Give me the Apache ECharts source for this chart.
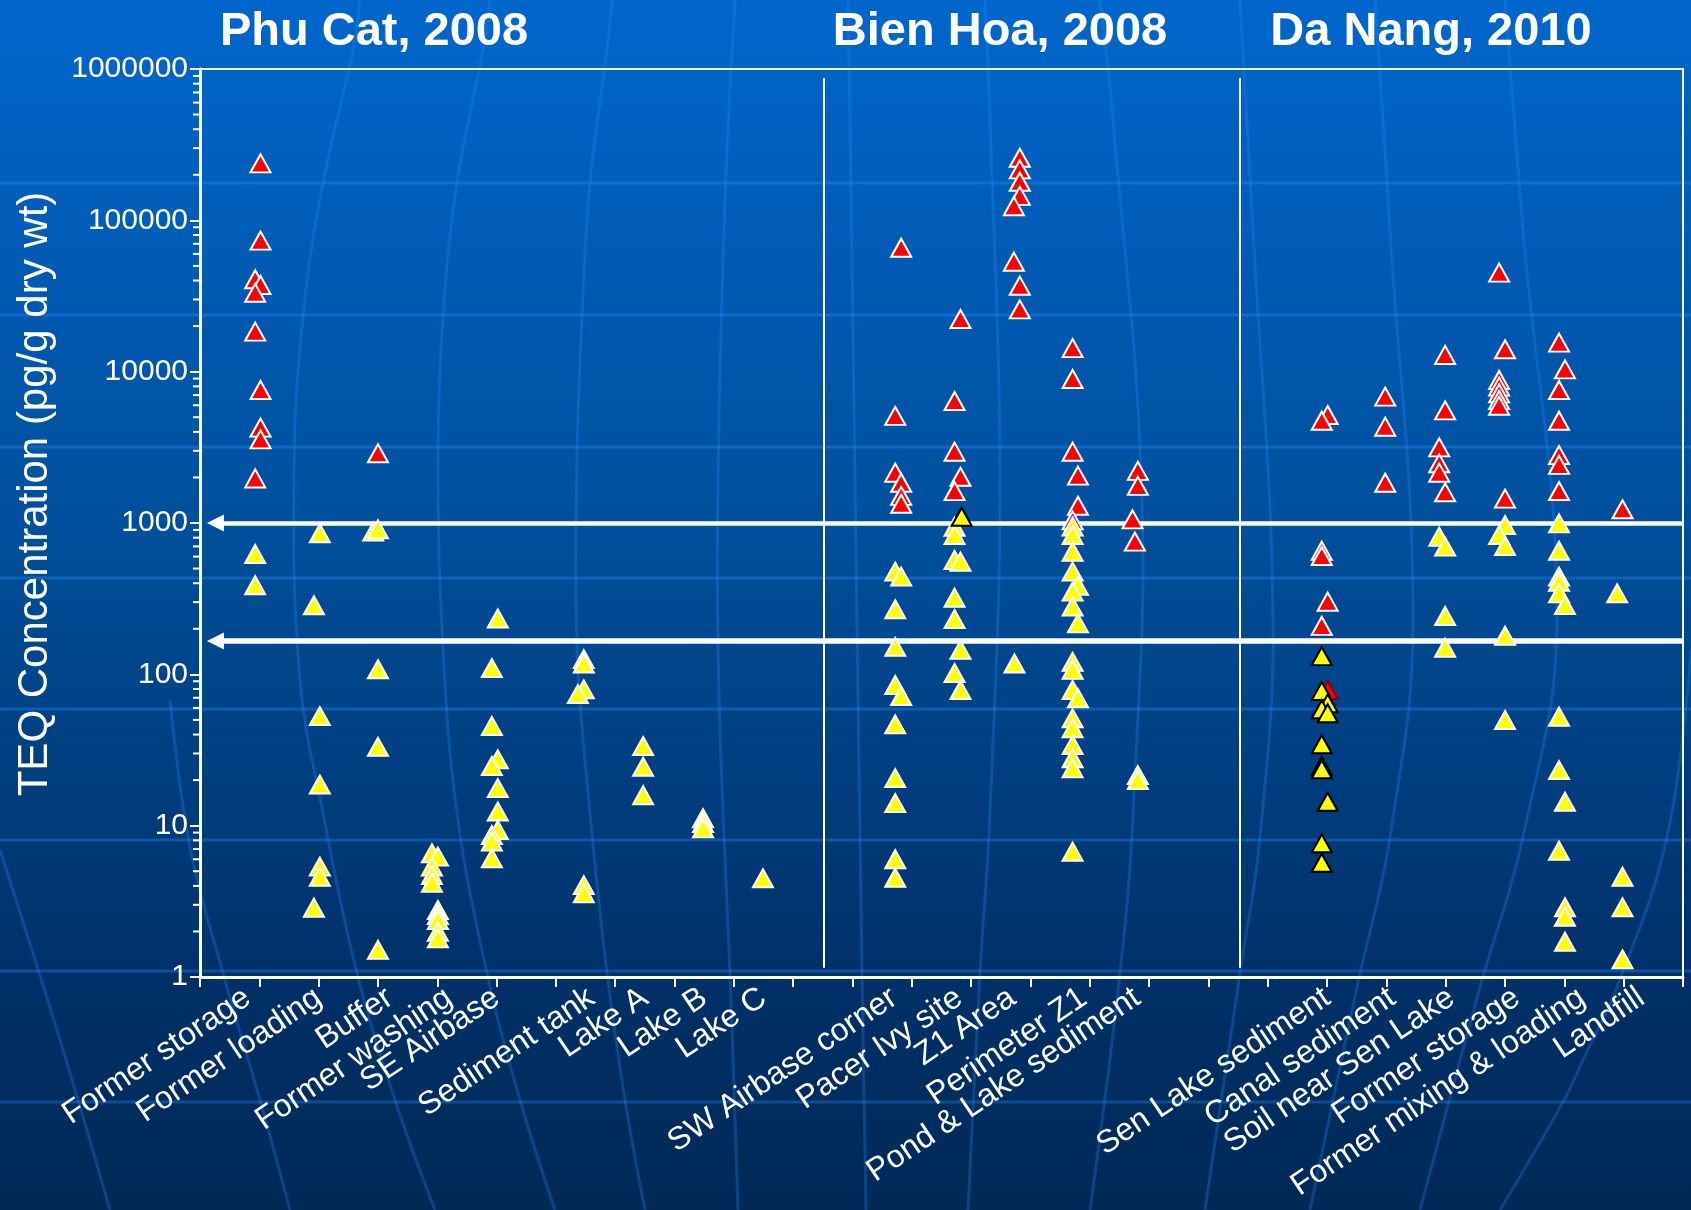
<!DOCTYPE html>
<html>
<head>
<meta charset="utf-8">
<title>TEQ Concentration</title>
<script src="https://cdn.jsdelivr.net/npm/echarts@6/dist/echarts.min.js"></script>
<style>
  html, body { margin: 0; padding: 0; background: #002956; }
  #chart { width: 1691px; height: 1210px; }
</style>
</head>
<body>
<div id="chart"></div>
<script>
/// data ///
// site names on the x axis and where each label sits
const siteNames = [
  'Former storage', 'Former loading', 'Buffer', 'Former washing', 'SE Airbase',
  'Sediment tank', 'Lake A', 'Lake B', 'Lake C',
  'SW Airbase corner', 'Pacer Ivy site', 'Z1 Area', 'Perimeter Z1', 'Pond & Lake sediment',
  'Sen Lake sediment', 'Canal sediment', 'Soil near Sen Lake', 'Former storage',
  'Former mixing & loading', 'Landfill',
]
const sitePos = [0.8, 2, 3.2, 4.2, 5, 6.6, 7.5, 8.5, 9.5, 11.7, 12.8, 13.7, 14.9, 15.8, 19, 20.1, 21.1, 22.2, 23.3, 24.3]

const regionTitles = ['Phu Cat, 2008', 'Bien Hoa, 2008', 'Da Nang, 2010']
const regionSplits = [10.52, 17.52]

const yTicks = [1, 10, 100, 1000, 10000, 100000, 1000000]
const refLines = [1000, 166]

// [x position, TEQ pg/g]
const redPhuCat = [
  [1.02, 238000], [1.02, 73400], [0.93, 40800], [1.02, 37400], [0.93, 33200],
  [0.93, 18400], [1.02, 7570], [1.02, 4270], [1.02, 3570], [0.93, 1970],
  [3.0, 2890],
]
const yellowPhuCat = [
  [0.93, 624], [0.93, 388],
  [2.02, 855], [1.92, 286], [2.02, 53], [2.02, 18.7], [2.02, 5.36], [2.02, 4.6], [1.92, 2.87],
  [2.92, 877], [3.0, 908], [3.0, 108], [3.0, 33.2], [3.0, 1.51],
  [3.91, 6.57], [4.01, 6.24], [3.91, 5.36], [3.91, 4.72], [3.91, 4.2],
  [4.01, 2.77], [4.01, 2.57], [4.01, 2.38], [4.01, 1.99], [4.01, 1.8],
  [5.02, 234], [4.92, 110], [4.92, 45.6], [5.02, 27.4], [4.92, 24.8], [5.02, 17.7],
  [5.02, 12.4], [5.02, 9.36], [4.92, 8.67], [4.92, 7.84], [4.92, 6.09],
  [6.47, 126], [6.47, 118], [6.47, 79.6], [6.37, 74.1], [6.47, 4.05], [6.47, 3.57],
  [7.47, 33.6], [7.47, 24.5], [7.47, 15.9],
  [8.48, 11.2], [8.48, 10.4], [8.48, 9.6],
  [9.49, 4.49],
]
const redBienHoa = [
  [11.82, 65900], [11.72, 5100], [11.72, 2150], [11.82, 1845], [11.82, 1510], [11.82, 1340],
  [12.82, 22300], [12.72, 6400], [12.72, 2960], [12.82, 2020], [12.72, 1625],
  [13.82, 259000], [13.82, 217000], [13.82, 180000], [13.82, 145000], [13.72, 124000],
  [13.72, 53300], [13.82, 37000], [13.82, 25800],
  [14.71, 14300], [14.71, 8950], [14.71, 2960], [14.8, 2055], [14.8, 1300], [14.71, 1040],
  [15.81, 2210], [15.81, 1760], [15.72, 1057], [15.76, 753],
]
const yellowBienHoa = [
  [11.72, 477], [11.82, 442], [11.72, 269], [11.72, 152], [11.72, 85.1], [11.82, 71.9],
  [11.72, 46.7], [11.72, 20.6], [11.72, 14.1], [11.72, 6.0], [11.72, 4.53],
  [12.72, 945], [12.72, 834], [12.72, 570], [12.82, 555], [12.72, 321], [12.72, 232],
  [12.82, 145], [12.72, 102], [12.82, 78.8],
  [13.73, 118],
  [14.71, 946], [14.71, 833], [14.71, 646], [14.71, 477], [14.8, 384], [14.71, 352],
  [14.71, 280], [14.8, 217], [14.71, 121], [14.71, 107], [14.71, 78.8], [14.8, 69.5],
  [14.71, 51.2], [14.71, 44], [14.71, 34.1], [14.71, 27.9], [14.71, 23.9], [14.71, 6.73],
  [15.81, 21.6], [15.81, 20.0],
]
const redDaNang = [
  [19.01, 5170], [18.91, 4740], [18.91, 656], [18.91, 605], [19.01, 302], [18.91, 209],
  [19.98, 6840], [19.98, 4330], [19.98, 1846],
  [20.99, 12900], [20.99, 5550], [20.89, 3160], [20.89, 2480], [20.89, 2150], [20.99, 1595],
  [21.9, 45100], [22.0, 14060], [21.9, 8810], [21.9, 7960], [21.9, 7190], [21.9, 6500],
  [21.9, 5960], [22.0, 1449],
  [22.91, 15550], [23.01, 10360], [22.91, 7570], [22.91, 4740], [22.91, 2810], [22.91, 2420],
  [22.91, 1627],
  [23.98, 1232],
]
const yellowDaNang = [
  [20.89, 812], [20.99, 698], [20.99, 243], [20.99, 150],
  [22.0, 970], [21.9, 833], [22.0, 705], [22.0, 180], [22.0, 49.9],
  [22.91, 995], [22.91, 656], [22.91, 442], [22.91, 409], [22.91, 343], [23.01, 287],
  [22.91, 52.5], [22.91, 23.3], [23.01, 14.4], [22.91, 6.83], [23.01, 2.89], [23.01, 2.5],
  [23.01, 1.71],
  [23.89, 343], [23.98, 4.6], [23.98, 2.89], [23.98, 1.31],
]
// black outlined ones (Sen Lake sediment + one at Pacer Ivy)
const yellowOutlined = [
  [12.84, 1100],
  [18.91, 132], [18.91, 77.6], [19.01, 64.4], [18.91, 58.8], [19.01, 55.3], [18.91, 34.5],
  [18.91, 24.8], [18.91, 23.6], [19.01, 14.4], [18.91, 7.65], [18.91, 5.69],
]
const redOutlined = [[19.01, 78.8]]

/// helpers ///
const FONT = '"Liberation Sans", Arial, sans-serif'
const W = 1691
const H = 1210

// minor ticks of the log axis (2..9 of every decade)
const minorTicks = []
yTicks.slice(0, -1).forEach(d => {
  for (let m = 2; m <= 9; m++) minorTicks.push([0, m * d])
})

const labelAt = {}
sitePos.forEach((p, i) => { labelAt[Math.round(p * 10)] = siteNames[i] })

// decorative globe meridians of the slide background
const meridians = [
  [[0, 850], [60, 1040], [110, 1210]],
  [[170, 700], [190, 847], [223, 973], [260, 1100], [290, 1210]],
  [[360, 0], [353, 50], [323, 183], [303, 317], [294, 470], [300, 680], [323, 813], [357, 973], [395, 1100], [435, 1210]],
  [[490, 0], [483, 50], [457, 183], [443, 317], [438, 460], [443, 647], [457, 813], [487, 973], [520, 1100], [555, 1210]],
  [[612, 0], [607, 50], [590, 183], [582, 317], [577, 460], [577, 647], [590, 813], [607, 973], [625, 1100], [645, 1210]],
  [[735, 0], [725, 200], [718, 480], [718, 647], [723, 813], [730, 973], [738, 1210]],
  [[848, 0], [850, 120], [855, 480], [862, 973], [866, 1210]],
  [[985, 0], [990, 120], [1000, 480], [990, 813], [980, 973], [968, 1210]],
  [[1100, 0], [1113, 120], [1142, 500], [1133, 813], [1120, 973], [1090, 1210]],
  [[1240, 0], [1253, 230], [1273, 620], [1260, 837], [1240, 973], [1205, 1210]],
  [[1375, 0], [1390, 230], [1413, 620], [1390, 837], [1357, 987], [1310, 1210]],
  [[1505, 0], [1523, 230], [1557, 620], [1523, 837], [1480, 987], [1420, 1210]],
  [[1691, 650], [1667, 837], [1617, 987], [1583, 1060], [1563, 1102], [1500, 1210]],
]
const stripes = [183, 315, 447, 578, 709, 840, 971, 1102]

const graphics = [
  {
    type: 'rect', z: -100, silent: true,
    shape: { x: 0, y: 0, width: W, height: H },
    style: {
      fill: new echarts.graphic.LinearGradient(0, 0, 0, 1, [
        { offset: 0, color: '#0066cc' },
        { offset: 0.41, color: '#00519f' },
        { offset: 0.81, color: '#003068' },
        { offset: 1, color: '#002956' },
      ]),
    },
  },
]
stripes.forEach(y => graphics.push({
  type: 'line', z: -90, silent: true,
  shape: { x1: 0, y1: y, x2: W, y2: y },
  style: { stroke: 'rgba(40,140,255,0.35)', lineWidth: 3 },
}))
meridians.forEach(pts => graphics.push({
  type: 'polyline', z: -90, silent: true,
  shape: { points: pts, smooth: 0.4 },
  style: { stroke: 'rgba(40,140,255,0.28)', lineWidth: 3, fill: null },
}))
// region titles
;[374, 1000, 1431].forEach((x, i) => graphics.push({
  type: 'text', x, y: 32, z: 10,
  style: {
    text: regionTitles[i], fill: '#fff', font: 'bold 47px ' + FONT,
    align: 'center', verticalAlign: 'middle',
  },
}))
// y axis title
graphics.push({
  type: 'text', x: 35, y: 494, rotation: Math.PI / 2, z: 10,
  style: {
    text: 'TEQ Concentration (pg/g dry wt)', fill: '#fff', font: '42px ' + FONT,
    align: 'center', verticalAlign: 'middle',
  },
})

function tri(data, fill, border, z) {
  return {
    type: 'scatter', data, z,
    symbol: 'triangle', symbolSize: [20, 18],
    itemStyle: { color: fill, borderColor: border, borderWidth: 2, opacity: 1 },
    emphasis: { disabled: true },
    clip: false,
  }
}

const chart = echarts.init(document.getElementById('chart'), null, { renderer: 'canvas' })

chart.setOption({
  animation: false,
  graphic: graphics,
  grid: {
    left: 200, right: 8, top: 69, bottom: 233,
    show: true, borderColor: '#fff', borderWidth: 2, backgroundColor: 'transparent',
  },
  xAxis: [
    {
      type: 'value', min: 0, max: 25, interval: 1,
      axisLine: { lineStyle: { color: '#fff', width: 3 } },
      axisTick: { show: true, length: 10, lineStyle: { color: '#fff', width: 2 } },
      axisLabel: { show: false },
      splitLine: { show: false },
    },
    {
      // only carries the rotated site labels
      type: 'value', min: 0, max: 25, interval: 0.1, position: 'bottom',
      axisLine: { show: false },
      axisTick: { show: false },
      splitLine: { show: false },
      axisLabel: {
        show: true, rotate: 34, margin: 18, color: '#fff',
        fontSize: 32, fontFamily: FONT,
        showMinLabel: true, showMaxLabel: true,
        formatter: v => labelAt[Math.round(v * 10)] || '',
      },
    },
  ],
  yAxis: {
    type: 'log', logBase: 10, min: 1, max: 1000000, splitNumber: 6,
    axisLine: { show: true, lineStyle: { color: '#fff', width: 3 } },
    axisTick: { show: true, length: 10, lineStyle: { color: '#fff', width: 2 } },
    axisLabel: {
      color: '#fff', fontSize: 30, fontFamily: FONT, margin: 12,
      formatter: v => String(Math.round(v)),
    },
    splitLine: { show: false },
  },
  series: [
    // minor log ticks
    {
      type: 'scatter', data: minorTicks, z: 5, silent: true, clip: false,
      symbol: 'rect', symbolSize: [7, 2], symbolOffset: [-3.5, 0],
      itemStyle: { color: '#fff', opacity: 1 },
    },
    // reference arrows + region separators
    {
      type: 'scatter', data: [], silent: true,
      markLine: {
        silent: true, animation: false,
        label: { show: false },
        emphasis: { disabled: true },
        data: [
          ...refLines.map((v, i) => [
            { coord: [0.26, v], symbol: 'triangle', symbolSize: [17, 17] },
            { coord: [25, v], symbol: 'none' },
          ].map(p => Object.assign(p, { lineStyle: { color: '#fff', width: i ? 5.5 : 4.5, type: 'solid' } }))),
          ...regionSplits.map(x => [
            { coord: [x, 871000], symbol: 'none' },
            { coord: [x, 1.15], symbol: 'none' },
          ].map(p => Object.assign(p, { lineStyle: { color: '#fff', width: 2, type: 'solid' } }))),
        ],
      },
    },
    tri(redPhuCat, '#ff0000', '#ffffff', 6),
    tri(redBienHoa, '#ff0000', '#ffffff', 6),
    tri(redDaNang, '#ff0000', '#ffffff', 6),
    tri(redOutlined, '#ff0000', '#8b0000', 6),
    tri(yellowPhuCat, '#ffff00', '#ffffff', 7),
    tri(yellowBienHoa, '#ffff00', '#ffffff', 7),
    tri(yellowDaNang, '#ffff00', '#ffffff', 7),
    tri(yellowOutlined, '#ffff00', '#000000', 8),
  ],
})
</script>
</body>
</html>
